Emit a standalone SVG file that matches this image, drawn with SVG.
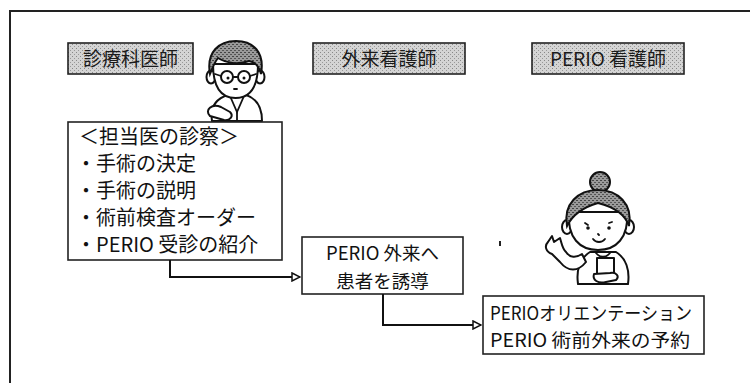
<svg xmlns="http://www.w3.org/2000/svg" width="750" height="383" viewBox="0 0 750 383">
  <defs>
    <style>
      .frame { fill: none; stroke: #222; stroke-width: 2; }
      .box { fill: #fff; stroke: #222; stroke-width: 1.6; }
      .tag { fill: url(#stipple); stroke: #222; stroke-width: 1.6; }
      .txt { font-family: "Noto Sans CJK JP", "Liberation Sans", sans-serif; font-size: 20px; fill: #111; }
      .sm { font-size: 18.5px; }
      .tagtxt { font-family: "Noto Sans CJK JP", "Liberation Sans", sans-serif; font-size: 19px; fill: #1a1a1a; text-anchor: middle; }
      .wire { fill: none; stroke: #111; stroke-width: 2; }
      .ink { fill: #fff; stroke: #111; stroke-width: 2; stroke-linejoin: round; stroke-linecap: round; }
      .hair { fill: url(#hairtex); stroke: #111; stroke-width: 2; }
      .line { fill: none; stroke: #111; stroke-width: 1.8; stroke-linecap: round; }
    </style>
    <pattern id="stipple" width="4" height="4" patternUnits="userSpaceOnUse">
      <rect width="4" height="4" fill="#d4d4d4"/>
      <rect x="0" y="0" width="1" height="1" fill="#888"/>
      <rect x="2" y="2" width="1" height="1" fill="#999"/>
    </pattern>
    <pattern id="hairtex" width="4" height="4" patternUnits="userSpaceOnUse">
      <rect width="4" height="4" fill="#9a9a9a"/>
      <rect x="0" y="0" width="2" height="1" fill="#444"/>
      <rect x="2" y="2" width="2" height="1" fill="#555"/>
    </pattern>
    <marker id="arrow" markerWidth="10" markerHeight="10" refX="9" refY="5" orient="auto" markerUnits="userSpaceOnUse">
      <path d="M1,1 L9,5 L1,9 Z" fill="#fff" stroke="#111" stroke-width="1.5"/>
    </marker>
  </defs>

  <rect width="750" height="383" fill="#fff"/>

  <!-- outer frame (open at right and bottom) -->
  <path class="frame" d="M10,383 V11 H750"/>

  <!-- role tags -->
  <g id="tag-doctor">
    <rect class="tag" x="68" y="43" width="125" height="31"/>
    <text class="tagtxt" x="130.5" y="66">診療科医師</text>
  </g>
  <g id="tag-outpatient-nurse">
    <rect class="tag" x="313" y="43" width="152" height="31"/>
    <text class="tagtxt" x="389" y="66">外来看護師</text>
  </g>
  <g id="tag-perio-nurse">
    <rect class="tag" x="532" y="43" width="152" height="31"/>
    <text class="tagtxt" x="608" y="66">PERIO 看護師</text>
  </g>

  <!-- doctor figure -->
  <g id="doctor">
    <!-- body / coat -->
    <path class="ink" d="M212,121 C210,108 215,99 228,95 L246,95 C258,99 262,108 262,121 Z"/>
    <path class="line" d="M230,96 L237,112 L244,96"/>
    <path class="line" d="M237,112 L237,121"/>
    <!-- hand with pen -->
    <path class="ink" d="M210,116 C204,110 212,103 221,107 L230,112 C234,116 230,121 224,120 Z"/>
    <!-- ears -->
    <ellipse class="ink" cx="211" cy="77" rx="4.5" ry="6.5"/>
    <ellipse class="ink" cx="260" cy="77" rx="4.5" ry="6.5"/>
    <!-- face -->
    <path class="ink" d="M213,64 C213,88 221,98 235.5,98 C250,98 258,88 258,64 Z"/>
    <!-- hair -->
    <path class="hair" d="M210,74 C206,52 219,41 236,41 C253,41 265,52 261,74 C259,66 255,62 249,61 C238,65 226,63 218,58 C214,63 212,69 210,74 Z"/>
    <!-- glasses -->
    <circle class="ink" cx="227" cy="77" r="6"/>
    <circle class="ink" cx="244" cy="77" r="6"/>
    <path class="line" d="M233,77 H238 M221,76 L215,74 M250,76 L256,74"/>
    <circle cx="228" cy="78" r="1.5" fill="#111"/>
    <circle cx="244" cy="78" r="1.5" fill="#111"/>
    <path class="line" d="M234,89 L237,89"/>
  </g>

  <!-- nurse figure -->
  <g id="nurse">
    <!-- body -->
    <path class="ink" d="M578,284 C576,270 580,258 590,252 L616,252 C626,258 630,270 628,284 Z"/>
    <path class="line" d="M596,253 C600,258 606,258 610,253"/>
    <!-- raised arm -->
    <path class="ink" d="M586,262 C578,272 568,272 560,262 L552,254 C546,252 544,246 548,242 L552,236 L554,242 L560,238 C562,244 562,248 566,252 C570,258 576,258 582,254 Z"/>
    <!-- clipboard and holding hand -->
    <rect class="ink" x="597" y="258" width="17" height="20"/>
    <path class="ink" d="M594,274 C592,280 598,284 606,282 L616,280 C620,276 616,272 610,273 Z"/>
    <!-- ears -->
    <ellipse class="ink" cx="567" cy="227" rx="5" ry="7"/>
    <ellipse class="ink" cx="629" cy="227" rx="5" ry="7"/>
    <!-- face -->
    <path class="ink" d="M569,212 C567,238 580,250 598,250 C616,250 629,238 627,212 Z"/>
    <!-- bun -->
    <circle class="hair" cx="600" cy="182" r="10"/>
    <!-- hair -->
    <path class="hair" d="M567,226 C563,204 578,190 598,190 C618,190 633,204 629,226 C625,214 614,207 598,203 C584,207 573,214 567,226 Z"/>
    <!-- eyes, mouth -->
    <path class="line" d="M585,223 l3,2 M609,223 l3,-1"/>
    <circle cx="588" cy="228" r="1.8" fill="#111"/>
    <circle cx="609" cy="228" r="1.8" fill="#111"/>
    <path class="line" d="M593,239 C596,243 602,243 605,239"/>
    <path class="line" d="M598,234 l1,1"/>
  </g>

  <!-- step boxes -->
  <g id="box-exam">
    <rect class="box" x="68" y="122" width="214" height="138"/>
    <text class="txt" x="79" y="144">＜担当医の診察＞</text>
    <text class="txt" x="76" y="171">・手術の決定</text>
    <text class="txt" x="76" y="198">・手術の説明</text>
    <text class="txt" x="76" y="225">・術前検査オーダー</text>
    <text class="txt" x="76" y="252">・PERIO 受診の紹介</text>
  </g>
  <g id="box-guide">
    <rect class="box" x="302" y="237" width="161" height="57"/>
    <text class="txt sm" x="382.5" y="260" text-anchor="middle">PERIO 外来へ</text>
    <text class="txt sm" x="382.5" y="288" text-anchor="middle">患者を誘導</text>
  </g>
  <g id="box-orientation">
    <rect class="box" x="483" y="296" width="221" height="58"/>
    <text class="txt sm" x="490" y="320" textLength="202" lengthAdjust="spacingAndGlyphs">PERIOオリエンテーション</text>
    <text class="txt sm" x="490" y="347" textLength="200" lengthAdjust="spacingAndGlyphs">PERIO 術前外来の予約</text>
  </g>

  <!-- small mark -->
  <path d="M500,241 v5" stroke="#222" stroke-width="2"/>

  <!-- connectors -->
  <g id="connectors">
    <path class="wire" d="M170,260 V277 H300" marker-end="url(#arrow)"/>
    <path class="wire" d="M383,294 V325 H481" marker-end="url(#arrow)"/>
  </g>
</svg>
